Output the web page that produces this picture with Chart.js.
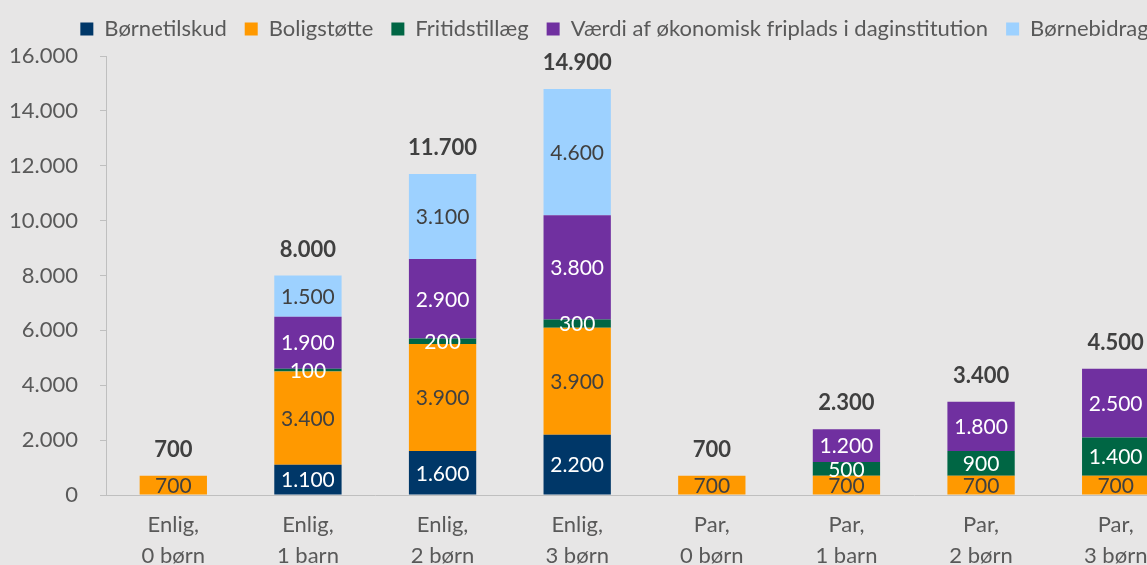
<!DOCTYPE html>
<html>
<head>
<meta charset="utf-8">
<script src="https://cdn.jsdelivr.net/npm/chart.js@4"></script>
<style>
  html, body { margin: 0; padding: 0; background: #e7e6e6; overflow: hidden; }
  #wrap { width: 1240px; height: 580px; }
</style>
</head>
<body>
<div id="wrap"><canvas id="chart" width="1240" height="580"></canvas></div>
<script>
// Kategorier og serier (kr.)
const categories = [
  ["Enlig,", "0 børn"], ["Enlig,", "1 barn"], ["Enlig,", "2 børn"], ["Enlig,", "3 børn"],
  ["Par,", "0 børn"], ["Par,", "1 barn"], ["Par,", "2 børn"], ["Par,", "3 børn"]
];
const boernetilskud = [0, 1100, 1600, 2200, 0, 0, 0, 0];
const boligstoette = [700, 3400, 3900, 3900, 700, 700, 700, 700];
const fritidstillaeg = [0, 100, 200, 300, 0, 500, 900, 1400];
const friplads = [0, 1900, 2900, 3800, 0, 1200, 1800, 2500];
const boernebidrag = [0, 1500, 3100, 4600, 0, 0, 0, 0];
const totals = [700, 8000, 11700, 14900, 700, 2300, 3400, 4500];
const yMax = 16000;
const yStep = 2000;

const series = [
  { label: "Børnetilskud", data: boernetilskud, color: "#003768", text: "#ffffff" },
  { label: "Boligstøtte", data: boligstoette, color: "#ff9900", text: "#404040" },
  { label: "Fritidstillæg", data: fritidstillaeg, color: "#006644", text: "#ffffff" },
  { label: "Værdi af økonomisk friplads i daginstitution", data: friplads, color: "#7030a0", text: "#ffffff" },
  { label: "Børnebidrag", data: boernebidrag, color: "#9dd1ff", text: "#404040" }
];

const fmt = v => String(v).replace(/\B(?=(\d{3})+(?!\d))/g, ".");
const FONT = "Lato, 'Open Sans', sans-serif";

const background = {
  id: "background",
  afterInit(chart) {
    // fast højde på legenden, så plotområdet starter ved 16.000-linjen
    const legend = chart.legend;
    if (legend) {
      const fit = legend.fit;
      legend.fit = function () { fit.call(this); this.height = 56; };
    }
  },
  afterLayout(chart) {
    // legenden står lidt til højre i originalen
    if (chart.legend) {
      chart.legend.left += 23;
      chart.legend.right += 23;
    }
  },
  beforeDraw(chart) {
    const ctx = chart.ctx;
    ctx.save();
    ctx.fillStyle = "#e7e6e6";
    ctx.fillRect(0, 0, chart.width, chart.height);
    ctx.restore();
  }
};

const barLabels = {
  id: "barLabels",
  afterDatasetsDraw(chart) {
    const ctx = chart.ctx;
    ctx.save();
    ctx.textAlign = "center";
    ctx.textBaseline = "middle";
    ctx.font = "21px " + FONT;
    chart.data.datasets.forEach((ds, i) => {
      const meta = chart.getDatasetMeta(i);
      meta.data.forEach((bar, j) => {
        const v = ds.data[j];
        if (!v) return;
        const p = bar.getProps(["x", "y", "base"], true);
        ctx.fillStyle = series[i].text;
        ctx.fillText(fmt(v), p.x, (p.y + p.base) / 2 + 1);
      });
    });
    // totaler over søjlerne
    const y = chart.scales.y;
    const meta0 = chart.getDatasetMeta(0);
    ctx.font = "bold 22px " + FONT;
    ctx.fillStyle = "#404040";
    totals.forEach((t, j) => {
      let sum = 0;
      chart.data.datasets.forEach(ds => { sum += ds.data[j] || 0; });
      ctx.fillText(fmt(t), meta0.data[j].x, y.getPixelForValue(sum) - 26);
    });
    ctx.restore();
  }
};

new Chart(document.getElementById("chart").getContext("2d"), {
  type: "bar",
  data: {
    labels: categories,
    datasets: series.map(s => ({
      label: s.label,
      data: s.data,
      backgroundColor: s.color,
      borderWidth: 0,
      categoryPercentage: 1,
      barPercentage: 0.5
    }))
  },
  options: {
    responsive: false,
    animation: false,
    layout: { padding: { left: 0, right: 57, top: 0, bottom: 0 } },
    plugins: {
      legend: {
        position: "top",
        labels: {
          boxWidth: 13,
          boxHeight: 13,
          padding: 18,
          color: "#595959",
          font: { family: FONT, size: 22 }
        }
      },
      tooltip: { enabled: false }
    },
    scales: {
      x: {
        stacked: true,
        grid: { display: false },
        border: { display: true, color: "#bfbfbf", width: 1 },
        ticks: {
          color: "#595959",
          padding: 7,
          maxRotation: 0,
          font: { family: FONT, size: 22, lineHeight: 1.4 }
        },
        afterFit(s) { s.height = 85; }
      },
      y: {
        stacked: true,
        min: 0,
        max: yMax,
        grid: { drawOnChartArea: false, drawTicks: true, tickLength: 6, color: "#bfbfbf" },
        border: { display: true, color: "#bfbfbf", width: 1 },
        ticks: {
          stepSize: yStep,
          padding: 22,
          color: "#595959",
          font: { family: FONT, size: 22 },
          callback: v => fmt(v)
        },
        afterFit(s) { s.width = 106; }
      }
    }
  },
  plugins: [background, barLabels]
});
</script>
</body>
</html>
